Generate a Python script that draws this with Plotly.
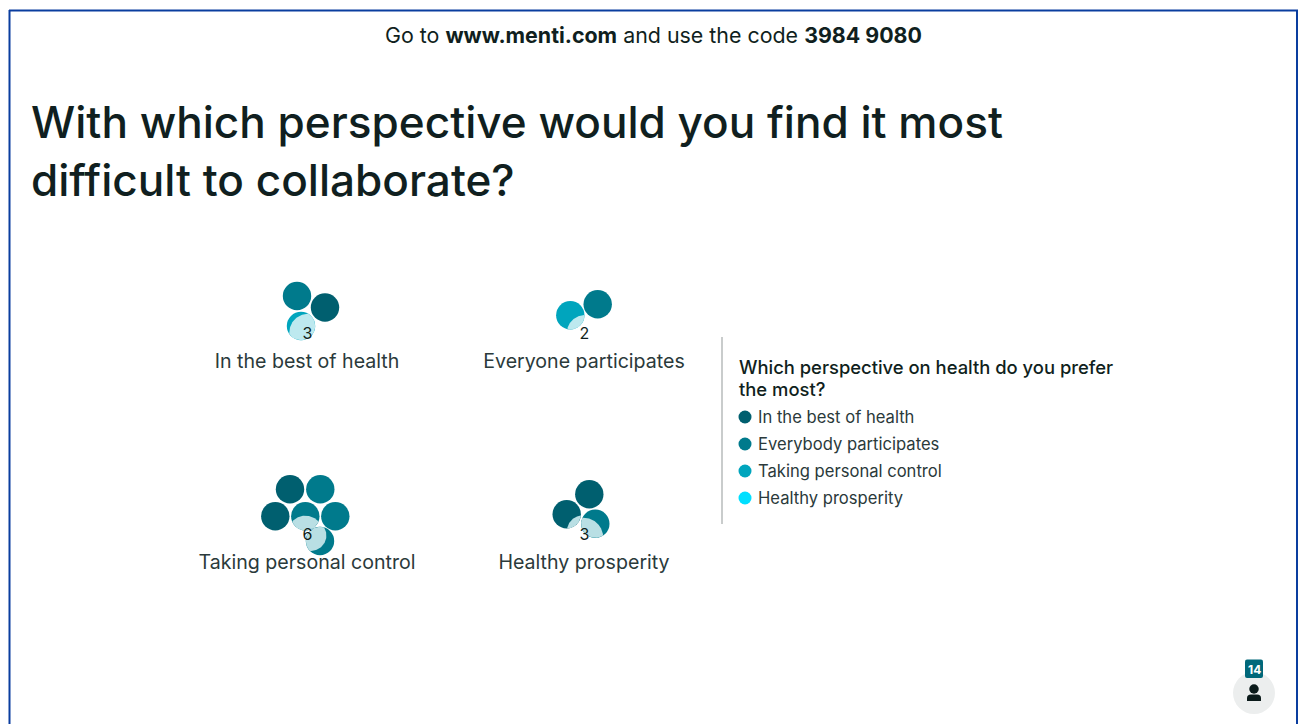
import math
import plotly.graph_objects as go

# Poll results
categories = ["In the best of health", "Everyone participates", "Taking personal control", "Healthy prosperity"]
votes = [3, 2, 6, 3]
preference_labels = ["In the best of health", "Everybody participates", "Taking personal control", "Healthy prosperity"]
participants = 14

# Preference index of every voter, in drawing order
voter_preferences = [
    [1, 0, 2],
    [1, 2],
    [0, 1, 0, 1, 1, 1],
    [0, 0, 1],
]

# Palette and type
PREF_COLORS = ["#005f6f", "#007a8c", "#00a5bd", "#00dfff"]
HIGHLIGHT = ["#b9dfe4", "#b9dfe4", "#bde9ef", "#bde9ef"]
INK = "#101f20"
SOFT_INK = "#2b3a3b"
FONT = "Inter"
RADIUS = 14.2

# Cluster anchors and per-voter offsets, in pixels on the page-sized axes
anchors = [(307, 333), (584, 333), (307, 534), (584, 534)]
packing = [
    [(-10, -37), (18, -25.5), (-6, -7)],
    [(13.7, -28.7), (-13.7, -17.7)],
    [(-17, -44.7), (13.3, -44.7), (-31.7, -17.7), (-1.7, -17.7), (28.3, -17.7), (13, 7)],
    [(5.3, -39.7), (-17.3, -19.7), (11.3, -10.3)],
]
# (cluster, voter, highlight dx, highlight dy, highlight radius)
highlights = [
    (0, 2, 7.3, 6.7, 19),
    (1, 1, 14.7, 18, 18.3),
    (2, 3, 0, 17, 17.7),
    (2, 5, -9, -5.5, 15.4),
    (3, 1, 15.7, 16.7, 15.5),
    (3, 2, -12, 14, 20),
]


def lens(c1, r1, c2, r2, n=120):
    """Outline of the overlap of two circles, swept around an interior point."""
    dx, dy = c2[0] - c1[0], c2[1] - c1[1]
    d = math.hypot(dx, dy) or 1.0
    ux, uy = dx / d, dy / d
    near = max(-r1, d - r2)
    far = min(r1, d + r2)
    mid = (near + far) / 2
    px, py = c1[0] + ux * mid, c1[1] + uy * mid

    def reach(c, r, ax, ay):
        ox, oy = px - c[0], py - c[1]
        b = ox * ax + oy * ay
        return -b + math.sqrt(max(b * b - (ox * ox + oy * oy - r * r), 0))

    xs, ys = [], []
    for i in range(n + 1):
        a = 2 * math.pi * i / n
        ax, ay = math.cos(a), math.sin(a)
        t = min(reach(c1, r1, ax, ay), reach(c2, r2, ax, ay))
        xs.append(px + ax * t)
        ys.append(py + ay * t)
    return xs, ys


fig = go.Figure()

# Voter bubbles
for i, count in enumerate(votes):
    ax, ay = anchors[i]
    offs = packing[i][:count]
    fig.add_trace(go.Scatter(
        x=[ax + o[0] for o in offs],
        y=[ay + o[1] for o in offs],
        mode="markers",
        marker=dict(size=2 * RADIUS,
                    color=[PREF_COLORS[p] for p in voter_preferences[i][:count]],
                    line=dict(width=0)),
        hoverinfo="skip",
    ))

# Pale overlap on the most recent voters
for cluster, voter, hx, hy, hr in highlights:
    ax, ay = anchors[cluster]
    ox, oy = packing[cluster][voter]
    centre = (ax + ox, ay + oy)
    xs, ys = lens(centre, RADIUS, (centre[0] + hx, centre[1] + hy), hr)
    fig.add_trace(go.Scatter(
        x=xs, y=ys, mode="lines", fill="toself",
        fillcolor=HIGHLIGHT[voter_preferences[cluster][voter]],
        line=dict(width=0), hoverinfo="skip",
    ))

# Vote counts and category names
fig.add_trace(go.Scatter(
    x=[a[0] + 0.5 for a in anchors], y=[a[1] + 2 for a in anchors],
    mode="text", text=[str(v) for v in votes],
    textposition="middle center",
    textfont=dict(family=FONT, size=16, color=INK), hoverinfo="skip",
))
fig.add_trace(go.Scatter(
    x=[a[0] for a in anchors], y=[a[1] + 30 for a in anchors],
    mode="text", text=categories,
    textposition="middle center",
    textfont=dict(family=FONT, size=19.6, color=SOFT_INK), hoverinfo="skip",
))

# Legend
legend_y = [417, 444, 471, 498]
fig.add_trace(go.Scatter(
    x=[745] * 4, y=legend_y, mode="markers",
    marker=dict(size=13, color=PREF_COLORS, line=dict(width=0)),
    hoverinfo="skip",
))
fig.add_trace(go.Scatter(
    x=[758] * 4, y=[y + 2 for y in legend_y], mode="text", text=preference_labels,
    textposition="middle right",
    textfont=dict(family=FONT, size=16.6, color=SOFT_INK), hoverinfo="skip",
))

# Presenter avatar disc
fig.add_trace(go.Scatter(
    x=[1254], y=[693], mode="markers",
    marker=dict(size=42, color="#eceeee", line=dict(width=0)), hoverinfo="skip",
))
fig.add_trace(go.Scatter(
    x=[1254], y=[689], mode="markers",
    marker=dict(size=9.5, color="#0b1a1a", line=dict(width=0)), hoverinfo="skip",
))

shapes = [
    # Slide frame: open at the bottom edge
    dict(type="line", x0=9.5, x1=9.5, y0=10, y1=724, line=dict(color="#0a3d9f", width=2)),
    dict(type="line", x0=9, x1=1298, y0=10.5, y1=10.5, line=dict(color="#0a3d9f", width=2)),
    dict(type="line", x0=1297, x1=1297, y0=10, y1=724, line=dict(color="#0a3d9f", width=2)),
    # Divider between chart and legend
    dict(type="line", x0=722, x1=722, y0=337, y1=524, line=dict(color="#c9cccc", width=2)),
    # Avatar shoulders and participant badge
    dict(type="path", path="M1247 701 L1247 698 Q1247 694.5 1251 694.5 L1257 694.5 Q1261 694.5 1261 698 L1261 701 Z",
         fillcolor="#0b1a1a", line=dict(width=0)),
    dict(type="path", path="M1247 659.5 L1261 659.5 Q1263 659.5 1263 661.5 L1263 676 Q1263 678 1261 678 L1247 678 Q1245 678 1245 676 L1245 661.5 Q1245 659.5 1247 659.5 Z",
         fillcolor="#00687a", line=dict(width=0)),
]


def note(x, y, text, size, color=INK, anchor="left", weight=400):
    return dict(x=x, y=y, text=text, xref="x", yref="y", showarrow=False,
                xanchor=anchor, yanchor="middle",
                font=dict(family=FONT, size=size, color=color, weight=weight))


annotations = [
    note(653, 35, "Go to <b>www.menti.com</b> and use the code <b>3984 9080</b>", 21.4, anchor="center"),
    note(29, 122, "With which perspective would you find it most", 44.1, weight=500),
    note(29, 180, "difficult to collaborate?", 44.1, weight=500),
    note(737, 367, "Which perspective on health do you prefer", 18.4, weight=500),
    note(737, 389, "the most?", 18.4, weight=500),
    note(1254, 669, f"<b>{participants}</b>", 12, color="#ffffff", anchor="center"),
]

fig.update_layout(
    width=1304, height=724,
    margin=dict(l=0, r=0, t=0, b=0),
    paper_bgcolor="#ffffff", plot_bgcolor="#ffffff",
    showlegend=False,
    shapes=shapes, annotations=annotations,
    xaxis=dict(range=[0, 1304], visible=False, fixedrange=True),
    yaxis=dict(range=[724, 0], visible=False, fixedrange=True),
)

fig.write_html("out.html", config={"displayModeBar": False})
